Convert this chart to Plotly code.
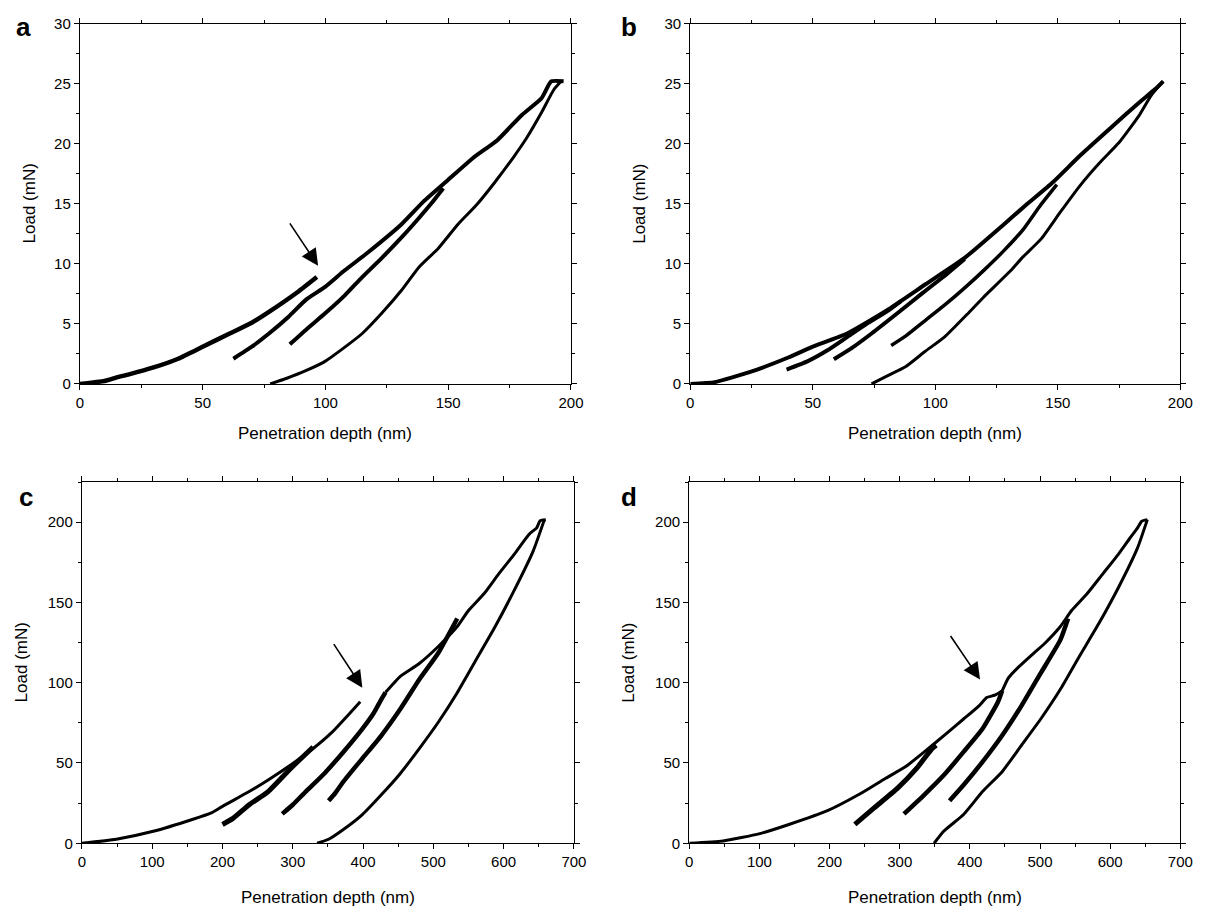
import plotly.graph_objects as go

# ---------------- Panel a (0-200 nm, 0-30 mN) ----------------
a_load_x = [0, 10, 15, 20, 30, 40, 50, 61, 70, 77, 89, 96.5]
a_load_y = [0, 0.25, 0.55, 0.8, 1.37, 2.1, 3.1, 4.2, 5.1, 6.0, 7.7, 8.9]
a_band1_x = [62.5, 70, 77, 85, 92, 100, 107.5, 117, 131, 140, 150, 160, 170, 180, 188, 192, 197]
a_band1_y = [2.1, 3.1, 4.2, 5.6, 7.0, 8.1, 9.4, 10.9, 13.3, 15.2, 17.0, 18.8, 20.3, 22.4, 23.8, 25.2, 25.2]
a_band2_x = [85.5, 92, 100, 108, 115, 123, 131, 138, 143, 148]
a_band2_y = [3.3, 4.5, 5.9, 7.4, 8.9, 10.5, 12.2, 13.8, 15.0, 16.3]
a_unload_x = [196, 193, 188, 182, 177, 169, 161.5, 154, 146, 138, 131, 123, 115, 107.5, 100, 92, 84, 77.5]
a_unload_y = [25.2, 24.5, 22.6, 20.5, 19.0, 16.8, 14.9, 13.3, 11.3, 9.7, 7.8, 5.9, 4.2, 3.0, 1.9, 1.1, 0.45, 0]

# ---------------- Panel b ----------------
b_load_x = [0, 10, 24.5, 40, 50, 64, 80, 96, 112, 127.5, 137, 148, 159, 172, 183, 190, 193]
b_load_y = [0, 0.15, 1.0, 2.2, 3.1, 4.2, 6.1, 8.3, 10.5, 13.2, 14.9, 16.8, 19.0, 21.4, 23.4, 24.6, 25.2]
b_band1_x = [39.3, 48, 56, 64, 72, 80, 86]
b_band1_y = [1.2, 1.9, 2.8, 3.9, 5.0, 6.0, 6.9]
b_band2_x = [58.6, 66, 74, 84, 95, 105, 112]
b_band2_y = [2.05, 3.0, 4.2, 5.8, 7.6, 9.2, 10.4]
b_band3_x = [82, 88, 96, 104, 112, 120, 128, 136, 143, 149.6]
b_band3_y = [3.2, 4.0, 5.3, 6.6, 8.0, 9.5, 11.1, 12.9, 14.9, 16.6]
b_unload_x = [193, 188, 183, 175, 167, 159, 151, 143.3, 135.4, 130.6, 119.6, 113, 103.7, 95.8, 88, 80, 74]
b_unload_y = [25.2, 24.0, 22.3, 20.1, 18.4, 16.5, 14.3, 12.1, 10.5, 9.4, 7.2, 5.8, 3.9, 2.7, 1.45, 0.63, 0]

# ---------------- Panel c (0-700 nm, 0-225 mN) ----------------
c_load1_x = [0, 49, 103, 157, 184, 200, 238, 265, 297, 329, 356, 378, 396]
c_load1_y = [0, 2.5, 7.6, 14.8, 18.9, 23, 32.2, 39.4, 48.7, 59, 69.2, 79.5, 88.1]
c_band1_x = [200, 215, 238, 265, 297, 329]
c_band1_y = [11.7, 15.5, 24, 32.2, 46.6, 60]
c_band2_x = [285, 300, 318.5, 345, 372, 399, 415, 426, 432]
c_band2_y = [18.3, 24, 32.2, 43.5, 56.9, 71.3, 81, 89.7, 94]
c_load2_x = [432, 453, 480, 507, 534, 550, 572, 593, 615, 636, 647, 652, 660]
c_load2_y = [94, 104, 112, 122.6, 135, 145, 155.4, 167.8, 180, 192.4, 196.5, 201, 201.6]
c_band3_x = [351, 360, 372, 399, 426, 453, 480, 507, 534]
c_band3_y = [26.5, 31, 38.4, 52.8, 67.1, 83.6, 102, 118.5, 140]
c_unload_x = [658, 642, 615, 588, 561, 534, 507, 480, 453, 426, 399, 372, 351, 334.6]
c_unload_y = [201.6, 182, 157.5, 135, 114.4, 93.8, 75.4, 59, 43.5, 30.2, 17.9, 8.6, 2.5, 0]

# ---------------- Panel d ----------------
d_load1_x = [0, 48, 100.5, 142, 197, 241, 280, 308, 335, 363, 391, 413, 424, 435, 446]
d_load1_y = [0, 1.4, 6, 11.7, 20.3, 30.2, 40.5, 47.6, 56.9, 67.1, 77.4, 85.6, 90.8, 92.2, 94.9]
d_load2_x = [446, 455, 470, 490, 507, 529, 545, 567, 589.5, 611.6, 628, 639, 645, 653]
d_load2_y = [94.9, 103, 110, 118, 124.6, 135, 145, 155.4, 167.8, 180, 190, 196.5, 200.6, 201.6]
d_band1_x = [236, 263.5, 297, 324, 346, 352]
d_band1_y = [11.7, 22, 34.3, 46.6, 58.9, 61]
d_band2_x = [306, 335, 363, 391, 418, 440, 446]
d_band2_y = [18.3, 30.2, 42.5, 56.9, 71.3, 88, 95]
d_band3_x = [371, 391, 418, 446, 473.5, 501, 529, 540]
d_band3_y = [26.5, 36.3, 50.7, 67.1, 85.6, 106, 126.7, 140]
d_unload_x = [653, 639, 612, 584, 556, 529, 501, 473.5, 446, 418, 391, 363, 349]
d_unload_y = [201.6, 184, 159.5, 137, 116.4, 95.9, 77.4, 61, 44.6, 32.2, 17.9, 7.6, 0]

# arrows: (tail x, tail y, head x, head y)
a_arrow = [85.1, 13.5, 97, 9.84]
c_arrow = [357, 125, 399, 96.9]
d_arrow = [371, 130, 414.5, 102]

panel_letters = ["a", "b", "c", "d"]
x_title = "Penetration depth (nm)"
y_title = "Load (mN)"

W, H = 1216, 918
FONT = "Liberation Sans, Arial, Helvetica, sans-serif"

fig = go.Figure()


def add(x, y, n, w):
    fig.add_trace(go.Scatter(
        x=x, y=y, mode="lines",
        line=dict(color="black", width=w, shape="spline", smoothing=0.5),
        xaxis="x" if n == 1 else f"x{n}", yaxis="y" if n == 1 else f"y{n}",
        showlegend=False, hoverinfo="skip"))


# panel a
add(a_load_x, a_load_y, 1, 4.5)
add(a_band1_x, a_band1_y, 1, 4)
add(a_band2_x, a_band2_y, 1, 4)
add(a_unload_x, a_unload_y, 1, 3)
# panel b
add(b_load_x, b_load_y, 2, 4)
add(b_band1_x, b_band1_y, 2, 4)
add(b_band2_x, b_band2_y, 2, 4)
add(b_band3_x, b_band3_y, 2, 3.5)
add(b_unload_x, b_unload_y, 2, 3)
# panel c
add(c_load1_x, c_load1_y, 3, 3)
add(c_band1_x, c_band1_y, 3, 5)
add(c_band2_x, c_band2_y, 3, 4.5)
add(c_load2_x, c_load2_y, 3, 3)
add(c_band3_x, c_band3_y, 3, 4.5)
add(c_unload_x, c_unload_y, 3, 3)
# panel d
add(d_load1_x, d_load1_y, 4, 3)
add(d_band1_x, d_band1_y, 4, 5)
add(d_band2_x, d_band2_y, 4, 4.5)
add(d_load2_x, d_load2_y, 4, 3)
add(d_band3_x, d_band3_y, 4, 4.5)
add(d_unload_x, d_unload_y, 4, 3)

# pixel boxes (left, right, top, bottom)
boxes = {
    1: (77, 575, 15, 382),
    2: (696, 1193, 15, 382),
    3: (79, 578, 482, 850),
    4: (695, 1193, 482, 850),
}


def ax_common():
    return dict(showline=True, linecolor="black", linewidth=1.3, mirror="allticks",
                ticks="outside", ticklen=5, tickwidth=1.2, tickcolor="black",
                showgrid=False, zeroline=False,
                tickfont=dict(family=FONT, size=15, color="black"))


layout = dict(width=W, height=H, margin=dict(l=0, r=0, t=0, b=0),
              paper_bgcolor="white", plot_bgcolor="white", showlegend=False)

for n, (l, r, t, b) in boxes.items():
    xs = "xaxis" if n == 1 else f"xaxis{n}"
    ys = "yaxis" if n == 1 else f"yaxis{n}"
    xa = ax_common()
    ya = ax_common()
    xa["domain"] = [l / W, r / W]
    ya["domain"] = [1 - b / H, 1 - t / H]
    xa["anchor"] = "y" if n == 1 else f"y{n}"
    ya["anchor"] = "x" if n == 1 else f"x{n}"
    if n in (1, 2):
        xa.update(range=[0, 200], dtick=50, tick0=0,
                  minor=dict(dtick=25, ticks="outside", ticklen=3, tickwidth=1, tickcolor="black"))
        ya.update(range=[0, 30], dtick=5, tick0=0,
                  minor=dict(dtick=2.5, ticks="outside", ticklen=3, tickwidth=1, tickcolor="black"))
    else:
        xa.update(range=[0, 700], dtick=100, tick0=0,
                  minor=dict(dtick=50, ticks="outside", ticklen=3, tickwidth=1, tickcolor="black"))
        ya.update(range=[0, 225], tickvals=[0, 50, 100, 150, 200],
                  minor=dict(tickvals=[25, 75, 125, 175, 225], ticks="outside", ticklen=3,
                             tickwidth=1, tickcolor="black"))
    layout[xs] = xa
    layout[ys] = ya

fig.update_layout(**layout)

annotations = []
# panel letters
letter_pos = {1: (20, 18), 2: (634, 18), 3: (22, 497), 4: (634, 497)}
for i, n in enumerate([1, 2, 3, 4]):
    px, py = letter_pos[n]
    annotations.append(dict(text=f"<b>{panel_letters[i]}</b>", x=px / W, y=1 - py / H,
                            xref="paper", yref="paper", showarrow=False,
                            font=dict(family=FONT, size=26, color="black"),
                            xanchor="center", yanchor="middle"))
# axis titles
xt_pos = {1: 433, 2: 433, 3: 905, 4: 905}
yt_pos = {1: 26, 2: 645, 3: 18, 4: 634}
for n, (l, r, t, b) in boxes.items():
    annotations.append(dict(text=x_title, x=(l + r) / 2 / W, y=1 - xt_pos[n] / H,
                            xref="paper", yref="paper", showarrow=False,
                            font=dict(family=FONT, size=17, color="black"),
                            xanchor="center", yanchor="middle"))
    annotations.append(dict(text=y_title, x=yt_pos[n] / W, y=1 - (t + b) / 2 / H,
                            xref="paper", yref="paper", showarrow=False, textangle=-90,
                            font=dict(family=FONT, size=17, color="black"),
                            xanchor="center", yanchor="middle"))
# arrows
for arr, (xr, yr) in [(a_arrow, ("x", "y")), (c_arrow, ("x3", "y3")), (d_arrow, ("x4", "y4"))]:
    annotations.append(dict(x=arr[2], y=arr[3], ax=arr[0], ay=arr[1], xref=xr, yref=yr,
                            axref=xr, ayref=yr, text="", showarrow=True, arrowhead=2,
                            arrowsize=2.1, arrowwidth=1.6, arrowcolor="black", standoff=0))

fig.update_layout(annotations=annotations)
fig.write_html("out.html")
